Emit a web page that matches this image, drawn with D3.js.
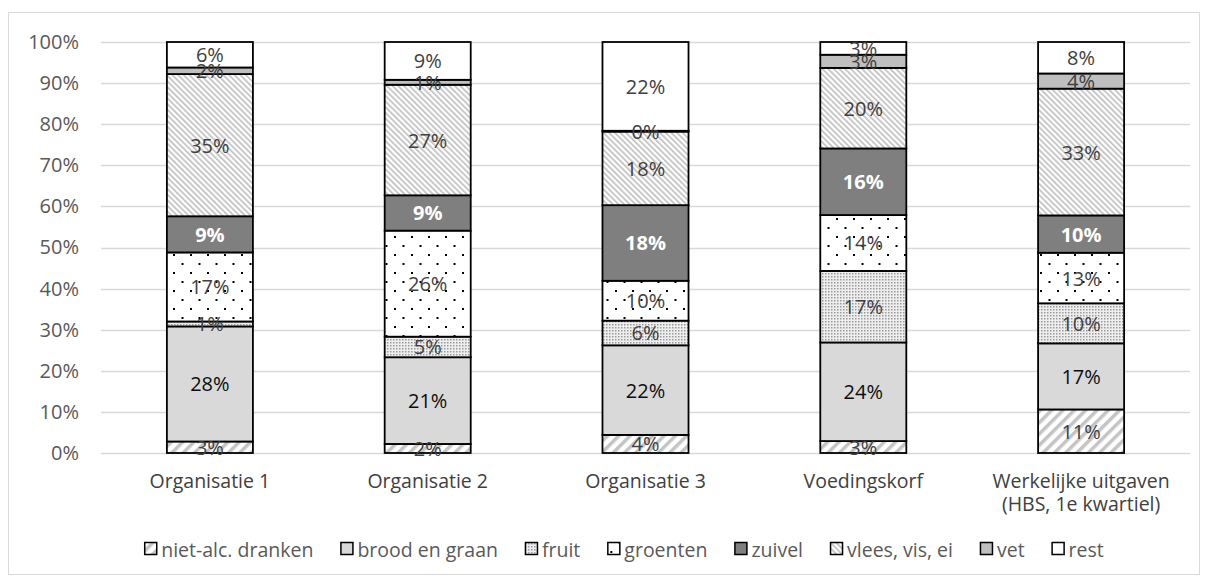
<!DOCTYPE html>
<html><head><meta charset="utf-8">
<script src="https://cdn.jsdelivr.net/npm/d3@7"></script>
<style>
html,body{margin:0;padding:0;background:#fff;}
svg{display:block;font-family:"Open Sans",sans-serif;}
</style></head>
<body><svg id="c" width="1208" height="579"></svg>
<script>
const categories = [["Organisatie 1"],["Organisatie 2"],["Organisatie 3"],["Voedingskorf"],["Werkelijke uitgaven","(HBS, 1e kwartiel)"]];
const seriesNames = ["niet-alc. dranken","brood en graan","fruit","groenten","zuivel","vlees, vis, ei","vet","rest"];
const nietAlc  = [2.8, 2.2, 4.4, 2.9, 11.2];
const brood    = [28.0, 21.1, 21.8, 24.0, 17.0];
const fruit    = [1.2, 5.0, 6.0, 17.4, 10.3];
const groenten = [16.8, 25.8, 9.7, 13.6, 13.0];
const zuivel   = [8.8, 8.6, 18.4, 16.2, 9.6];
const vlees    = [34.6, 26.9, 17.9, 19.6, 32.6];
const vet      = [1.6, 1.2, 0.2, 3.2, 3.9];
const rest     = [6.2, 9.2, 21.6, 3.1, 8.1];
const yTicks = [0,0.1,0.2,0.3,0.4,0.5,0.6,0.7,0.8,0.9,1.0];

const seriesValues = [nietAlc, brood, fruit, groenten, zuivel, vlees, vet, rest];
const keys = seriesNames;
const table = categories.map((c,i)=>{const o={cat:c.join(" ")}; keys.forEach((k,j)=>o[k]=seriesValues[j][i]); return o;});

const svg = d3.select("#c");
const defs = svg.append("defs");
// patterns
const p1 = defs.append("pattern").attr("id","p0").attr("patternUnits","userSpaceOnUse").attr("width",8).attr("height",8).attr("patternTransform","rotate(45)");
p1.append("rect").attr("width",8).attr("height",8).attr("fill","#fff");
p1.append("rect").attr("width",3.5).attr("height",8).attr("fill","#c4c4c4");
const p2 = defs.append("pattern").attr("id","p2").attr("patternUnits","userSpaceOnUse").attr("width",3).attr("height",3);
p2.append("rect").attr("width",3).attr("height",3).attr("fill","#eeeeee");
p2.append("rect").attr("width",1.5).attr("height",1.5).attr("fill","#9a9a9a");
const p3 = defs.append("pattern").attr("id","p3").attr("patternUnits","userSpaceOnUse").attr("width",17).attr("height",18);
p3.append("rect").attr("width",17).attr("height",18).attr("fill","#fff");
p3.append("rect").attr("x",3).attr("y",2).attr("width",2).attr("height",2).attr("fill","#000");
p3.append("rect").attr("x",11.5).attr("y",11).attr("width",2).attr("height",2).attr("fill","#000");
const p5 = defs.append("pattern").attr("id","p5").attr("patternUnits","userSpaceOnUse").attr("width",4).attr("height",4).attr("patternTransform","rotate(-45)");
p5.append("rect").attr("width",4).attr("height",4).attr("fill","#fff");
p5.append("rect").attr("width",1.6).attr("height",4).attr("fill","#bdbdbd");

const fills = ["url(#p0)","#d9d9d9","url(#p2)","url(#p3)","#7f7f7f","url(#p5)","#bfbfbf","#ffffff"];
const labelColors = ["#404040","#0d0d0d","#404040","#404040","#ffffff","#404040","#404040","#404040"];

// frame
svg.append("rect").attr("x",8.5).attr("y",12.5).attr("width",1191).attr("height",562).attr("fill","none").attr("stroke","#d9d9d9").attr("stroke-width",1);

const x = d3.scaleBand().domain(table.map(d=>d.cat)).range([101,1190]).paddingInner(0.605).paddingOuter(0.3025);
const y = d3.scaleLinear().domain([0,1]).range([453,42]);

// grid
svg.append("g").selectAll("line").data(yTicks).join("line")
  .attr("x1",101).attr("x2",1190).attr("y1",d=>Math.round(y(d))+0.5).attr("y2",d=>Math.round(y(d))+0.5)
  .attr("stroke","#d9d9d9").attr("stroke-width",1.5);

// y axis
const yAxis = d3.axisLeft(y).tickValues(yTicks).tickFormat(d3.format(".0%")).tickSize(0).tickPadding(22);
const ya = svg.append("g").attr("transform","translate(101,0)").call(yAxis);
ya.select(".domain").remove();
ya.selectAll("text").attr("font-family","Open Sans").attr("font-size",20).attr("fill","#595959");

const stack = d3.stack().keys(keys).offset(d3.stackOffsetExpand);
const series = stack(table);

const g = svg.append("g");
series.forEach((s,si)=>{
  g.append("g").selectAll("rect").data(s).join("rect")
    .attr("x",d=>x(d.data.cat)).attr("width",x.bandwidth())
    .attr("y",d=>y(d[1])).attr("height",d=>y(d[0])-y(d[1]))
    .attr("fill",fills[si]).attr("stroke","#000").attr("stroke-width",1.8);
});
series.forEach((s,si)=>{
  g.append("g").selectAll("text").data(s).join("text")
    .attr("x",d=>x(d.data.cat)+x.bandwidth()/2)
    .attr("y",d=>(y(d[0])+y(d[1]))/2)
    .attr("text-anchor","middle").attr("dominant-baseline","central")
    .attr("font-size",20).attr("font-weight",si===4?"bold":"normal")
    .attr("fill",labelColors[si])
    .text(d=>Math.round(d.data[keys[si]])+"%");
});

// x axis labels
const xa = svg.append("g");
categories.forEach((c,i)=>{
  const t = xa.append("text").attr("x",x(table[i].cat)+x.bandwidth()/2).attr("y",488)
    .attr("text-anchor","middle").attr("font-size",19.5).attr("fill","#404040");
  c.forEach((line,li)=>t.append("tspan").attr("x",x(table[i].cat)+x.bandwidth()/2).attr("y",488+li*23).text(line));
});

// legend
const lg = svg.append("g");
let items = [];
let cx = 0;
seriesNames.forEach((n,i)=>{
  const it = lg.append("g");
  it.append("rect").attr("x",0.5).attr("y",-6.5).attr("width",12).attr("height",12).attr("fill",fills[i]).attr("stroke","#000").attr("stroke-width",1.5);
  const t = it.append("text").attr("x",17).attr("y",0).attr("dominant-baseline","central").attr("font-size",19.5).attr("fill","#595959").text(n);
  const w = 17 + t.node().getComputedTextLength();
  items.push({it,w});
});
const gap = 27;
const total = d3.sum(items,d=>d.w) + gap*(items.length-1);
let start = 624 - total/2;
items.forEach(d=>{ d.it.attr("transform",`translate(${start},549)`); start += d.w + gap; });
</script></body></html>
